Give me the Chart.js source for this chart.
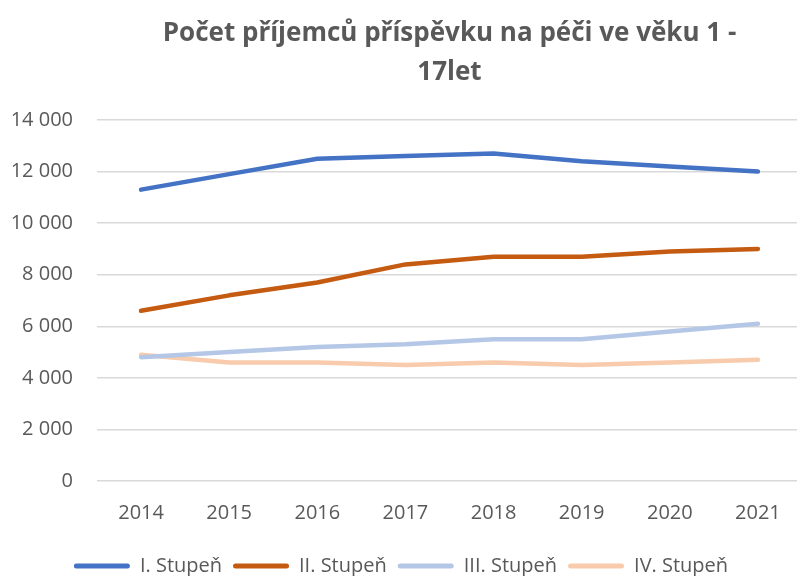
<!DOCTYPE html>
<html>
<head>
<meta charset="utf-8">
<script src="https://cdn.jsdelivr.net/npm/chart.js@4/dist/chart.umd.min.js"></script>
<style>
  html, body { margin: 0; padding: 0; background: #ffffff; overflow: hidden; }
  #wrap { width: 797px; height: 576px; overflow: hidden; }
</style>
</head>
<body>
<div id="wrap"><canvas id="c" width="802" height="576"></canvas></div>
<script>
const years = ['2014', '2015', '2016', '2017', '2018', '2019', '2020', '2021'];
const stupenI   = [11300, 11900, 12500, 12600, 12700, 12400, 12200, 12000];
const stupenII  = [6600, 7200, 7700, 8400, 8700, 8700, 8900, 9000];
const stupenIII = [4800, 5000, 5200, 5300, 5500, 5500, 5800, 6100];
const stupenIV  = [4900, 4600, 4600, 4500, 4600, 4500, 4600, 4700];
const seriesNames = ['I. Stupeň', 'II. Stupeň', 'III. Stupeň', 'IV. Stupeň'];
const titleLines = ['Počet příjemců příspěvku na péči ve věku 1 -', '17let'];

const colors = ['#4472C4', '#C55A11', '#B4C7E7', '#F8CBAD'];
const seriesData = [stupenI, stupenII, stupenIII, stupenIV];
const FONT = "'Open Sans', 'Liberation Sans', sans-serif";
const GREY = '#595959';

new Chart(document.getElementById('c'), {
  type: 'line',
  data: {
    labels: years,
    datasets: seriesData.map((d, i) => ({
      label: seriesNames[i],
      data: d,
      borderColor: colors[i],
      backgroundColor: colors[i],
      borderWidth: 4.5,
      pointRadius: 0,
      pointHoverRadius: 0,
      tension: 0,
      borderCapStyle: 'round',
      borderJoinStyle: 'round',
      fill: false
    }))
  },
  options: {
    responsive: false,
    animation: false,
    devicePixelRatio: 1,
    layout: { padding: { left: 0, right: 0, top: 0, bottom: -10 } },
    plugins: {
      title: {
        display: true,
        text: titleLines,
        fullSize: false,
        color: GREY,
        font: { family: FONT, size: 26, weight: 'bold', lineHeight: 1.5 },
        padding: { top: 14, bottom: 28 }
      },
      legend: {
        display: true,
        position: 'bottom',
        labels: {
          color: GREY,
          font: { family: FONT, size: 20 },
          boxWidth: 56,
          boxHeight: 5,
          padding: 11,
          generateLabels: (chart) => {
            const items = Chart.defaults.plugins.legend.labels.generateLabels(chart);
            items.forEach(it => { it.lineWidth = 0; it.borderRadius = 2.5; });
            return items;
          }
        }
      },
      tooltip: { enabled: false }
    },
    scales: {
      x: {
        offset: true,
        grid: { display: false, drawTicks: false },
        border: { display: false },
        ticks: { color: GREY, font: { family: FONT, size: 20 }, padding: 20, maxRotation: 0 }
      },
      y: {
        min: 0,
        max: 14000,
        afterFit: (scale) => { scale.width = 97; },
        grid: { color: '#D9D9D9', lineWidth: 1.5, drawTicks: false },
        border: { display: false },
        ticks: {
          stepSize: 2000,
          color: GREY,
          font: { family: FONT, size: 20 },
          padding: 24,
          callback: (v) => String(v).replace(/\B(?=(\d{3})+(?!\d))/g, ' ')
        }
      }
    }
  }
});
</script>
</body>
</html>
